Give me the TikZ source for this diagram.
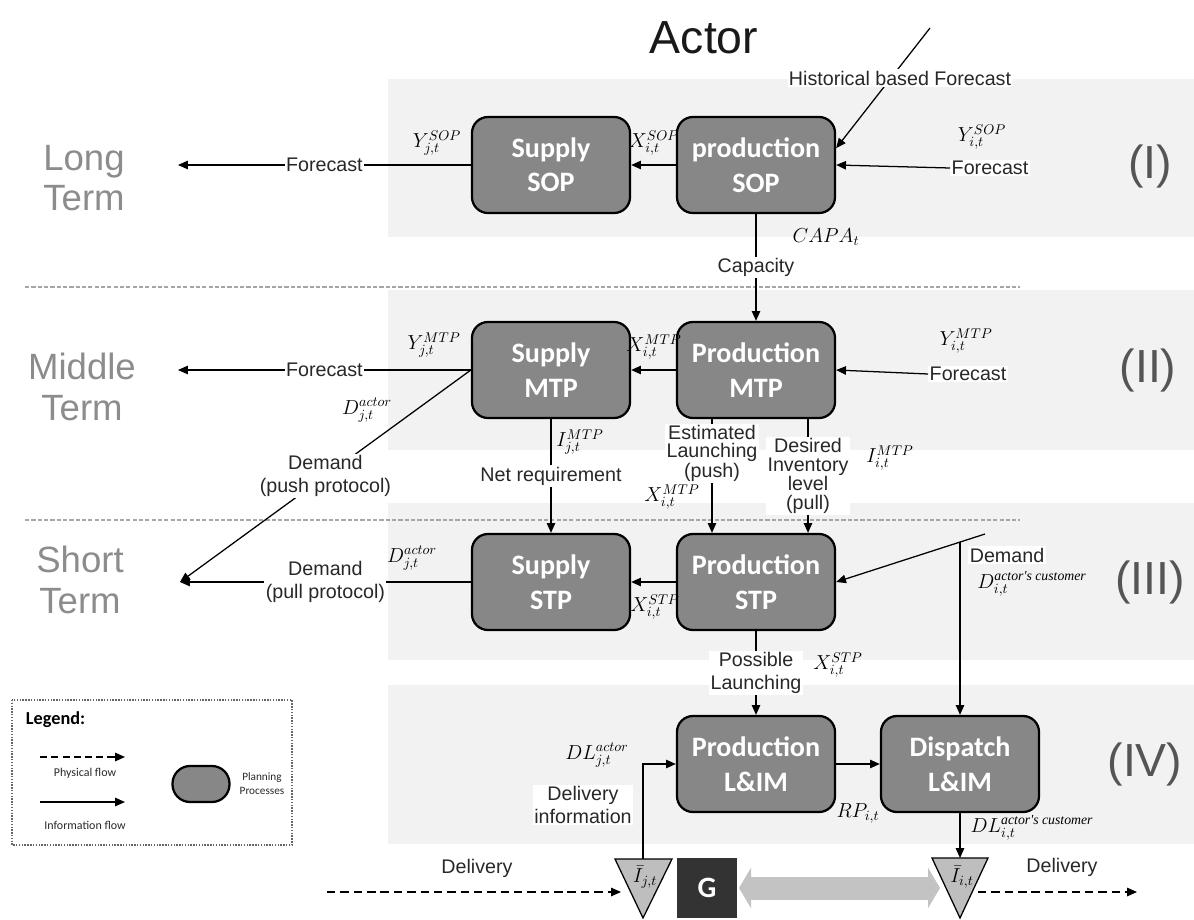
\documentclass[tikz,border=0pt]{standalone}
\usepackage{amsmath}
\usepackage{fontspec}
\setmainfont{Liberation Sans}
\newfontfamily\calibri{Carlito}
\newfontfamily\timesf{Liberation Serif}
\usetikzlibrary{arrows.meta,positioning}

\definecolor{bandgray}{RGB}{242,242,242}
\definecolor{procgray}{RGB}{135,135,135}
\definecolor{trigray}{RGB}{190,190,190}
\definecolor{gdark}{RGB}{51,51,51}
\definecolor{dblgray}{RGB}{195,195,195}
\definecolor{termgray}{RGB}{140,140,140}
\definecolor{numgray}{RGB}{85,85,85}
\definecolor{txtdark}{RGB}{40,40,40}

\tikzset{
  proc/.style={draw=black, line width=1.6pt, fill=procgray, rounded corners=0.4cm,
    minimum width=3.95cm, minimum height=2.4cm, text=white, align=center,
    font=\calibri\bfseries\fontsize{20}{24.5}\selectfont},
  lbl/.style={fill=white, inner sep=1pt, align=center, text=txtdark,
    font=\fontsize{14}{16}\selectfont},
  lbltight/.style={lbl, font=\fontsize{14}{13}\selectfont},
  mvar/.style={inner sep=0pt, font=\fontsize{14}{16}\selectfont},
  info/.style={line width=0.9pt, -{Triangle[length=7pt,width=6pt]}},
  phys/.style={info, dash pattern=on 6pt off 3.5pt},
  divline/.style={draw=gray!70, line width=0.8pt, dash pattern=on 3pt off 1.5pt},
  headtxt/.style={text=black!90, font=\fontsize{33}{38}\selectfont},
  termtxt/.style={text=termgray, align=center, font=\fontsize{26}{29}\selectfont},
  numtxt/.style={text=numgray, font=\fontsize{33}{38}\selectfont},
  tri/.style={draw=black, line width=0.9pt, fill=trigray},
  gbox/.style={fill=gdark, text=white, minimum size=1.5cm, inner sep=0pt,
    font=\calibri\bfseries\fontsize{21}{21}\selectfont},
  dbl/.style={draw=dblgray, line width=0.575cm,
    {Triangle[length=0.3cm,width=1cm]}-{Triangle[length=0.3cm,width=1cm]}},
  lgbox/.style={draw=gray!80!black, line width=1pt, densely dotted},
  lgtxt/.style={text=txtdark, align=center, font=\calibri\fontsize{8.5}{10}\selectfont}
}

\begin{document}
\begin{tikzpicture}[x=0.025cm,y=-0.025cm]
\useasboundingbox (0,0) rectangle (1194,919);
% bandes
\fill[bandgray] (388,79) rectangle (1194,237);
\fill[bandgray] (388,290) rectangle (1194,450);
\fill[bandgray] (388,503) rectangle (1194,660);
\fill[bandgray] (388,685) rectangle (1194,844);
\draw[divline] (25,287) -- (1020,287);
\draw[divline] (25,520) -- (1020,520);

\node[headtxt] (actor) at (704,38) {Actor};
\node[termtxt] (lt) at (84,178) {Long\\Term};
\node[termtxt] (mt) at (82,387) {Middle\\Term};
\node[termtxt] (st) at (80,580) {Short\\Term};
\node[numtxt] (n1) at (1150,166) {(I)};
\node[numtxt] (n2) at (1148,370) {(II)};
\node[numtxt] (n3) at (1150,582) {(III)};
\node[numtxt] (n4) at (1145,764) {(IV)};

\node[proc] (sSOP) at (551,165) {Supply\\SOP};
\node[proc] (pSOP) at (756,165) {production\\SOP};
\node[proc] (sMTP) at (551,370) {Supply\\MTP};
\node[proc] (pMTP) at (756,370) {Production\\MTP};
\node[proc] (sSTP) at (551,582) {Supply\\STP};
\node[proc] (pSTP) at (756,582) {Production\\STP};
\node[proc] (pLIM) at (756,764) {Production\\L\&IM};
\node[proc] (dLIM) at (960,764) {Dispatch\\L\&IM};

\coordinate (outI) at (178,165);
\coordinate (outII) at (178,370);
\coordinate (outIII) at (180,582);
\coordinate (histsrc) at (930,28);
\coordinate (dmdsrc) at (985,534);
\coordinate (dmdtop) at (960,542);

% (I)
\draw[info] (sSOP.west) -- node[lbl] (fcLI) {Forecast} (outI);
\draw[info] (pSOP.west) -- (sSOP.east);
\node[lbl] (fcRI) at (990,168) {Forecast};
\draw[info] (fcRI.west) -- (pSOP.east);
\draw[info] (histsrc) -- ([yshift=0.42cm]pSOP.east);
\node[lbl] (hist) at (900,78) {Historical based Forecast};
\draw[info] (pSOP.south) -- node[lbl] (cap) {Capacity} (pMTP.north);
\node[mvar] (ySOPj) at (437,143) {$Y^{SOP}_{j,t}$};
\node[mvar] (xSOP) at (654,143) {$X^{SOP}_{i,t}$};
\node[mvar] (ySOPi) at (982,137) {$Y^{SOP}_{i,t}$};
\node[mvar] (capa) at (826,237) {$CAPA_t$};

% (II)
\draw[info] (sMTP.west) -- node[lbl] (fcLII) {Forecast} (outII);
\draw[info] (sMTP.west) -- node[lbl] (push) {Demand\\(push protocol)} (outIII);
\draw[info] (pMTP.west) -- (sMTP.east);
\node[lbl] (fcRII) at (968,374) {Forecast};
\draw[info] (fcRII.west) -- (pMTP.east);
\draw[info] (sMTP.south) -- node[lbl] (netreq) {Net requirement} (sSTP.north);
\draw[info] ([xshift=-1.1cm]pMTP.south) -- node[lbltight,pos=0.3] (estl) {Estimated\\Launching\\(push)} ([xshift=-1.1cm]pSTP.north);
\draw[info] ([xshift=1.3cm]pMTP.south) -- node[lbltight] (desinv) {Desired\\Inventory\\level\\(pull)} ([xshift=1.3cm]pSTP.north);
\node[mvar] (yMTPj) at (434,345) {$Y^{MTP}_{j,t}$};
\node[mvar] (dactII) at (367,410) {$D^{actor}_{j,t}$};
\node[mvar] (xMTP) at (654,347) {$X^{MTP}_{i,t}$};
\node[mvar] (yMTPi) at (966,341) {$Y^{MTP}_{i,t}$};
\node[mvar] (iMTPj) at (580,442) {$I^{MTP}_{j,t}$};
\node[mvar] (xMTPb) at (672,497) {$X^{MTP}_{i,t}$};
\node[mvar] (iMTPi) at (890,458) {$I^{MTP}_{i,t}$};

% (III)
\draw[info] (sSTP.west) -- node[lbl] (pull) {Demand\\(pull protocol)} (outIII);
\draw[info] (pSTP.west) -- (sSTP.east);
\draw[info] (dmdsrc) -- (pSTP.east);
\draw[info] (dmdtop) -- (dLIM.north);
\node[lbl] (dmd) at (1007,555) {Demand};
\draw[info] (pSTP.south) -- node[lbl] (possl) {Possible\\Launching} (pLIM.north);
\node[mvar] (dactIII) at (412,558) {$D^{actor}_{j,t}$};
\node[mvar] (xSTP) at (655,607) {$X^{STP}_{i,t}$};
\node[mvar] (dcust) at (1032,584) {$D^{\text{\timesf\itshape actor's customer}}_{i,t}$};
\node[mvar] (xSTPb) at (838,665) {$X^{STP}_{i,t}$};

% (IV)
\draw[info] (pLIM.east) -- (dLIM.west);
\coordinate (tJ) at (643,859);
\coordinate (tI) at (960,858);
\draw[tri] (615,859) -- (672,859) -- (643,918) -- cycle;
\draw[tri] (932,858) -- (988,858) -- (960,918) -- cycle;
\node[mvar] (ibj) at (645,877) {$\bar I_{j,t}$};
\node[mvar] (ibi) at (962,877) {$\bar I_{i,t}$};
\draw[info] (tJ) |- (pLIM.west);
\node[lbl] (dinfo) at (583,805) {Delivery\\information};
\draw[info] (dLIM.south) -- (tI);
\node[mvar] (dlact) at (597,755) {$DL^{actor}_{j,t}$};
\node[mvar] (rp) at (858,813) {$RP_{i,t}$};
\node[mvar] (dlcust) at (1032,828) {$DL^{\text{\timesf\itshape actor's customer}}_{i,t}$};

\node[gbox] (g) at (707,888) {G};
\coordinate (gaL) at (739,888);
\coordinate (gaR) at (940,888);
\draw[dbl] (gaL) -- (gaR);

\coordinate (dlvin) at (327,892);
\coordinate (dlvend) at (621,892);
\coordinate (dlvstart) at (978,892);
\coordinate (dlvout) at (1137,892);
\draw[phys] (dlvin) -- (dlvend);
\draw[phys] (dlvstart) -- (dlvout);
\node[lbl, fill=none] (dlvL) at (477,868) {Delivery};
\node[lbl, fill=none] (dlvR) at (1062,867) {Delivery};

% legende
\draw[lgbox] (12,700) rectangle (292,845);
\node[anchor=west, font=\calibri\bfseries\fontsize{13}{15}\selectfont] (lgt) at (21,720) {Legend:};
\coordinate (lgp1) at (40,757);
\coordinate (lgp2) at (125,757);
\coordinate (lgi1) at (40,802);
\coordinate (lgi2) at (125,802);
\draw[phys, dash pattern=on 5pt off 3pt] (lgp1) -- (lgp2);
\draw[info] (lgi1) -- (lgi2);
\node[lgtxt] (lgphys) at (85,773) {Physical flow};
\node[lgtxt] (lginfo) at (85,825) {Information flow};
\node[proc, minimum width=1.425cm, minimum height=0.9cm, rounded corners=0.44cm] (lgpp) at (201,784) {};
\node[lgtxt, font=\calibri\fontsize{8}{10}\selectfont] (lgpl) at (262,784) {Planning\\Processes};
\end{tikzpicture}
\end{document}
